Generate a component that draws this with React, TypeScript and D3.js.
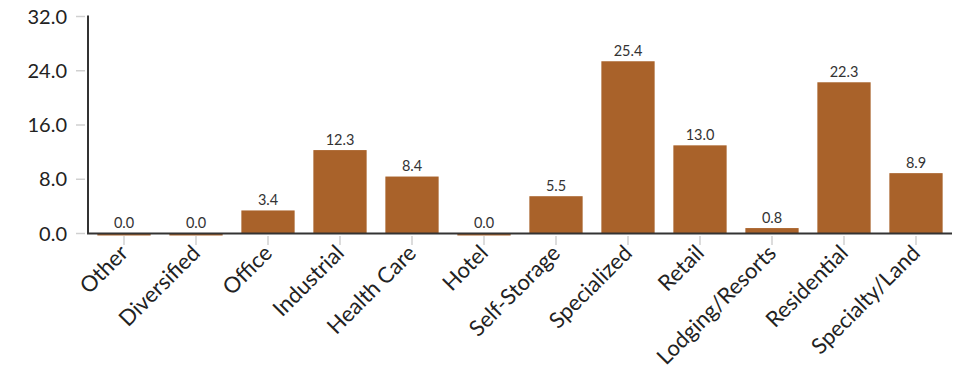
import React from "react";
import * as d3 from "d3";

const categories = ["Other","Diversified","Office","Industrial","Health Care","Hotel","Self-Storage","Specialized","Retail","Lodging/Resorts","Residential","Specialty/Land"];
const values = [0.0,0.0,3.4,12.3,8.4,0.0,5.5,25.4,13.0,0.8,22.3,8.9];
const yTicks = [0, 8, 16, 24, 32];

const W = 963, H = 370;
const FONT = "Lato, 'Open Sans', sans-serif";

export default function App() {
  const x = d3.scaleBand<string>().domain(categories).range([88, 952]).paddingInner(0.26).paddingOuter(0.13);
  const y = d3.scaleLinear().domain([0, 32]).range([233.5, 16.5]);
  const base = y(0);
  return (
    <svg width={W} height={H} style={{ position: "absolute", left: 0, top: 0 }}>
      <g>
        {yTicks.map(t => (
          <g key={t}>
            <line x1={76} x2={85} y1={y(t)} y2={y(t)} stroke="#d0d0d0" strokeWidth={1.5} />
            <text x={67} y={y(t)} dy="0.36em" textAnchor="end" fontFamily={FONT} fontSize={20} fill="#222">{t.toFixed(1)}</text>
          </g>
        ))}
      </g>
      {categories.map((c, i) => {
        const v = values[i];
        const bx = x(c)!;
        const cx = bx + x.bandwidth() / 2;
        const top = y(v);
        const h = base - top;
        return (
          <g key={c}>
            {v > 0 ? (
              <rect x={bx} y={top} width={x.bandwidth()} height={h} fill="#a9622a" />
            ) : (
              <rect x={bx} y={base} width={x.bandwidth()} height={2} fill="#a9622a" />
            )}
            <text x={cx} y={top - 5.5} textAnchor="middle" fontFamily={FONT} fontSize={14.5} fill="#333">{v.toFixed(1)}</text>
            <line x1={cx} x2={cx} y1={236} y2={245} stroke="#d0d0d0" strokeWidth={1.5} />
            <text transform={`translate(${cx},${249}) rotate(-45)`} textAnchor="end" dy="0.35em" fontFamily={FONT} fontSize={22} fill="#222">{c}</text>
          </g>
        );
      })}
      <line x1={88} x2={88} y1={y(32) - 1} y2={base} stroke="#333" strokeWidth={2} />
      <line x1={87} x2={952} y1={base} y2={base} stroke="#333" strokeWidth={2} />
    </svg>
  );
}
